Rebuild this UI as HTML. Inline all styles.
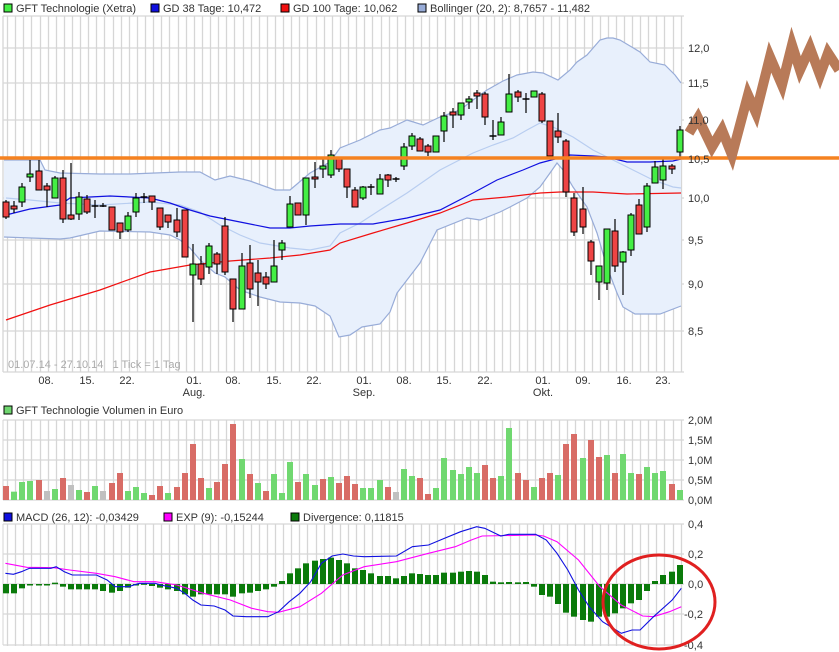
<!DOCTYPE html>
<html><head><meta charset="utf-8"><style>
body{margin:0;background:#fff;width:839px;height:652px;overflow:hidden}
svg{display:block;font-family:"Liberation Sans",sans-serif}
</style></head><body>
<svg id="s" width="839" height="652" xmlns="http://www.w3.org/2000/svg"></svg>
<script>
const S=document.getElementById('s');let h='';
const G='#d6d6d6';
// candles: x, bodyTop, bodyBot, wickHi, wickLo, color
const C=[[6,202,217,200,219,'r'],[14,206,209,201,213,'r'],[22,187,202,183,207,'g'],[30,174,177,160,182,'g'],[39,171,190,160,190,'r'],[47,186,190,183,207,'r'],[55,178,198,176,198,'g'],[63,178,219,170,223,'r'],[71,215,219,163,220,'r'],[79,197,214,192,220,'g'],[87,199,212,195,214,'r'],[95,206,206,200,218,'r'],[103,206,206,203,207,'r'],[112,207,230,207,230,'r'],[120,223,232,223,239,'r'],[128,216,230,212,232,'g'],[136,198,212,193,217,'g'],[144,197,198,193,203,'g'],[152,196,202,196,210,'r'],[160,208,227,208,230,'r'],[168,215,222,215,228,'r'],[177,220,232,208,237,'r'],[185,210,257,210,257,'r'],[193,264,275,244,322,'g'],[201,264,279,256,285,'r'],[209,246,267,243,274,'g'],[217,254,264,252,274,'r'],[225,226,272,217,275,'r'],[233,279,309,279,322,'r'],[242,266,309,253,309,'g'],[250,263,289,245,298,'r'],[258,273,282,260,306,'r'],[266,277,284,272,289,'r'],[274,266,282,240,282,'g'],[282,243,250,240,260,'g'],[290,204,227,196,227,'g'],[298,203,215,203,215,'r'],[306,178,215,178,225,'g'],[315,177,179,162,188,'r'],[323,166,169,157,178,'g'],[331,155,175,150,178,'g'],[339,157,169,157,172,'r'],[347,169,187,169,198,'r'],
[355,190,207,187,207,'r'],[363,187,198,186,200,'g'],[371,187,187,184,195,'r'],[380,179,194,174,194,'g'],[388,175,180,174,187,'r'],[396,179,179,177,182,'r'],[404,147,166,143,170,'g'],[412,136,146,133,150,'g'],[420,139,151,137,151,'r'],[428,146,152,144,156,'r'],[436,136,152,136,152,'g'],[444,116,131,112,142,'g'],[453,112,115,108,128,'r'],[461,103,115,103,120,'g'],[469,99,102,96,109,'g'],[477,93,96,90,109,'r'],[485,94,117,92,125,'r'],[493,136,136,120,140,'r'],[501,122,135,117,135,'g'],[509,94,112,74,112,'g'],[518,92,97,90,102,'r'],[526,99,99,93,113,'r'],[534,91,97,91,97,'g'],[542,94,121,92,123,'r'],[550,121,156,121,156,'r'],[558,131,137,113,143,'r'],[566,141,192,139,197,'r'],[574,198,232,193,236,'r'],[583,209,227,187,234,'r'],[591,242,261,240,275,'r'],[599,266,282,266,300,'g'],[607,229,283,229,290,'g'],[615,231,266,219,272,'r'],[623,252,262,251,295,'g'],[631,215,250,213,256,'g'],[639,205,234,199,234,'r'],[647,186,227,183,232,'g'],[655,167,183,161,183,'g'],[663,166,180,157,189,'g'],[672,166,169,164,174,'r'],[680,130,152,126,158,'g']];
const xs=C.map(c=>c[0]);
// vertical grids
function vgrid(y1,y2){for(let i=0;i<xs.length;i++){const x=xs[i]+1.5;h+=`<line x1="${x}" y1="${y1}" x2="${x}" y2="${y2}" stroke="${G}" stroke-width="1.3"/>`;}}
vgrid(16,372);vgrid(420,500);vgrid(524,646);
[16,48,83,120,159,198,240,284,331].forEach(y=>h+=`<line x1="3" y1="${y}" x2="684" y2="${y}" stroke="${G}" stroke-width="1.3"/>`);
h+=`<line x1="3" y1="16" x2="3" y2="372" stroke="${G}" stroke-width="1.3"/><line x1="3" y1="372" x2="684" y2="372" stroke="${G}" stroke-width="1.3"/>`;
[420,440,460,480,500].forEach(y=>h+=`<line x1="3" y1="${y}" x2="684" y2="${y}" stroke="${G}" stroke-width="1.3"/>`);
[524,554,584,614,645].forEach(y=>h+=`<line x1="3" y1="${y}" x2="684" y2="${y}" stroke="${G}" stroke-width="1.3"/>`);
h+=`<line x1="3" y1="420" x2="3" y2="500" stroke="${G}"/><line x1="3" y1="524" x2="3" y2="645" stroke="${G}"/>`;
const P=a=>a.map(p=>p.join(',')).join(' ');
const up=[[4,160],[40,160],[45,170],[60,173],[100,174],[130,174],[180,172],[200,172],[215,180],[230,176],[250,181],[275,190],[290,190],[310,173],[330,162],[340,148],[360,140],[380,130],[390,128],[407,120],[423,125],[440,117],[460,110],[473,100],[487,90],[503,81],[517,75],[533,72],[543,73],[558,80],[570,70],[577,62],[587,55],[600,40],[607,38],[613,38],[620,40],[640,52],[650,62],[665,65],[675,75],[681,83]];
const lo=[[4,237],[30,238],[60,239],[70,238],[100,231],[150,232],[170,235],[180,240],[190,248],[200,260],[215,273],[225,277],[240,290],[260,297],[280,302],[300,303],[315,306],[330,316],[339,337],[350,335],[362,327],[380,324],[390,312],[397,293],[420,263],[437,230],[467,218],[480,220],[500,212],[510,207],[527,198],[540,187],[550,173],[557,163],[563,170],[573,187],[587,207],[597,233],[607,267],[617,293],[623,307],[635,314],[660,314],[681,306]];
h+=`<polygon points="${P(up.concat(lo.slice().reverse()))}" fill="#e8f0fc"/>`;
h+=`<polyline points="${P(up)}" fill="none" stroke="#98acd8" stroke-width="1.2"/><polyline points="${P(lo)}" fill="none" stroke="#98acd8" stroke-width="1.2"/>`;
const mid=[[6,198],[30,200],[60,203],[100,205],[150,202],[180,205],[200,212],[220,225],[240,235],[260,243],[290,248],[310,250],[330,246],[340,233],[360,223],[380,210],[407,193],[440,170],[473,153],[493,145],[513,138],[527,130],[540,123],[553,127],[573,137],[593,150],[613,160],[633,170],[653,180],[673,187],[681,188]];
h+=`<polyline points="${P(mid)}" fill="none" stroke="#b8cdf0" stroke-width="1.2"/>`;
const g38=[[6,215],[30,209],[60,205],[70,198],[90,197],[110,196],[150,198],[170,203],[190,210],[210,216],[240,222],[270,228],[290,228],[310,226],[340,224],[373,224],[407,218],[440,210],[473,193],[497,180],[523,170],[540,163],[555,159],[570,155],[593,156],[607,157],[627,162],[650,162],[673,161],[681,159]];
const g100=[[6,320],[50,305],[100,290],[150,272],[190,265],[230,261],[270,258],[300,255],[330,250],[340,243],[373,233],[407,223],[440,213],[473,200],[507,197],[540,193],[560,192],[593,192],[627,194],[681,193]];
h+=`<polyline points="${P(g100)}" fill="none" stroke="#f01010" stroke-width="1.2"/><polyline points="${P(g38)}" fill="none" stroke="#1010e0" stroke-width="1.2"/>`;
C.forEach(c=>{const[x,t,b,wh,wl,col]=c;h+=`<line x1="${x}" y1="${wh}" x2="${x}" y2="${wl}" stroke="#000" stroke-width="1.2"/>`;
 if(b-t<1.5)h+=`<line x1="${x-3.5}" y1="${t}" x2="${x+3.5}" y2="${t}" stroke="#000" stroke-width="1.5"/>`;
 else h+=`<rect x="${x-3}" y="${t}" width="6" height="${b-t}" fill="${col=='g'?'#44ee44':'#ee4444'}" stroke="#000" stroke-width="1"/>`;});
// orange line & zigzag
h+=`<line x1="0" y1="158" x2="839" y2="158" stroke="#f58220" stroke-width="3.5"/>`;
h+=`<polyline points="689,133 698,118 712,147 722,130 732,155 748,95 756,113 770,57 782,85 792,45 800,70 810,48 820,75 828,53 839,70" fill="none" stroke="#b87a58" stroke-width="10" stroke-linejoin="miter"/>`;
// axis labels
const T=(x,y,s,a,c,fs)=>h+=`<text x="${x}" y="${y}" font-size="${fs||11}" fill="${c||'#333'}" text-anchor="${a||'start'}">${s}</text>`;
[['12,0',48],['11,5',83],['11,0',120],['10,5',159],['10,0',198],['9,5',240],['9,0',284],['8,5',331]].forEach(l=>T(688,l[1]+4,l[0]));
[['08.',46],['15.',87],['22.',127],['01.',194],['08.',233],['15.',274],['22.',314],['01.',364],['08.',404],['15.',444],['22.',485],['01.',543],['09.',583],['16.',624],['23.',663]].forEach(l=>T(l[1],384,l[0],'middle'));
T(194,396,'Aug.','middle');T(364,396,'Sep.','middle');T(543,396,'Okt.','middle');
T(8,368,'01.07.14 - 27.10.14&#160;&#160;&#160;1 Tick = 1 Tag','start','#aaa');
// legends
const L=(x,y,c)=>h+=`<rect x="${x}" y="${y}" width="8" height="8" fill="${c}" stroke="#000" stroke-width="1"/>`;
L(4,4,'#44ee44');T(16,12,'GFT Technologie (Xetra)');L(151,4,'#1010e0');T(163,12,'GD 38 Tage: 10,472');L(281,4,'#f01010');T(293,12,'GD 100 Tage: 10,062');L(418,4,'#98acd8');T(430,12,'Bollinger (20, 2): 8,7657 - 11,482');
L(4,406,'#6fd66f');T(16,414,'GFT Technologie Volumen in Euro');
L(4,513,'#1010e0');T(16,521,'MACD (26, 12): -0,03429');L(164,513,'#ff00ff');T(176,521,'EXP (9): -0,15244');L(291,513,'#0a7a0a');T(303,521,'Divergence: 0,11815');
[['2,0M',420],['1,5M',440],['1,0M',460],['0,5M',480],['0,0M',500]].forEach(l=>T(688,l[1]+4,l[0]));
[['0,4',524],['0,2',554],['0,0',584],['-0,2',614],['-0,4',645]].forEach(l=>T(l[0][0]=='-'?684:688,l[1]+4,l[0]));
// volume
const V=[[258,'r'],[275,'g'],[246,'g'],[243,'g'],[240,'r'],[273,'n'],[267,'g'],[234,'r'],[255,'n'],[270,'g'],[276,'r'],[258,'g'],[273,'n'],[249,'r'],[219,'r'],[273,'g'],[261,'g'],[279,'g'],[285,'r'],[258,'r'],[279,'g'],[261,'r'],[219,'r'],[132,'r'],[234,'r'],[264,'g'],[246,'r'],[192,'r'],[72,'r'],[177,'g'],[222,'r'],[249,'g'],[273,'r'],[222,'g'],[279,'g'],[186,'g'],[246,'r'],[222,'g'],[255,'g'],[237,'r'],[231,'g'],[249,'r'],[228,'r'],[252,'r'],[264,'g'],[264,'g'],[240,'g'],[261,'r'],[276,'n'],[207,'g'],[228,'g'],[234,'r'],[282,'r'],[264,'g'],[174,'g'],[210,'g'],[222,'g'],[201,'g'],[219,'g'],[195,'r'],[234,'r'],[228,'g'],[84,'g'],[219,'r'],[240,'r'],[261,'g'],[234,'r'],[219,'r'],[225,'g'],[132,'r'],[102,'r'],[174,'g'],[120,'r'],[171,'r'],[165,'g'],[219,'r'],[162,'g'],[219,'g'],[222,'r'],[201,'g'],[219,'g'],[213,'g'],[252,'r'],[270,'g']];
V.forEach((v,i)=>{if(i>=xs.length)return;const y=v[0]/3+400;h+=`<rect x="${xs[i]-3}" y="${y}" width="6" height="${500-y}" fill="${v[1]=='g'?'#70d870':v[1]=='r'?'#d86c66':'#c0c0c0'}"/>`;});
// divergence
const D=[580,580,565,555,553,553,548,560,568,568,568,568,573,578,573,563,555,550,558,563,568,573,583,590,583,583,583,583,590,580,578,573,568,560,543,520,505,490,482,477,473,480,490,505,510,520,528,528,535,528,520,522,525,525,518,518,515,513,515,525,545,547,546,547,546,560,585,590,612,638,650,660,665,650,650,640,625,610,600,573,543,525,515,495];
D.forEach((d,i)=>{if(i>=xs.length)return;const y=d/3+400,z=584;h+=`<rect x="${xs[i]-3}" y="${Math.min(y,z)}" width="6" height="${Math.max(Math.abs(y-z),1.5)}" fill="#0a7a0a"/>`;});
const Z=a=>a.map(p=>[(p[0]/1.867).toFixed(1),(p[1]/3+400).toFixed(1)].join(',')).join(' ');
const mb=[[10,520],[25,523],[40,515],[55,505],[95,505],[105,500],[120,515],[135,525],[180,525],[200,540],[215,560],[240,560],[260,550],[290,550],[300,555],[330,565],[345,580],[360,600],[375,615],[400,618],[420,630],[435,648],[460,650],[500,650],[520,635],[540,605],[560,580],[580,545],[600,490],[620,468],[640,462],[660,468],[680,470],[740,468],[770,440],[800,435],[830,415],[860,395],[890,380],[905,385],[935,408],[950,403],[1000,403],[1020,420],[1040,460],[1060,510],[1080,570],[1100,620],[1125,665],[1160,700],[1180,690],[1195,690],[1220,650],[1255,600],[1272,565]];
const pk=[[10,490],[50,502],[100,503],[130,510],[180,520],[215,530],[250,545],[290,545],[330,555],[380,580],[430,600],[470,625],[500,635],[520,637],[560,620],[600,580],[640,525],[680,500],[740,485],[800,460],[850,440],[880,420],[900,408],[1000,405],[1015,408],[1040,425],[1080,480],[1120,560],[1160,615],[1200,648],[1220,650],[1250,635],[1272,620]];
h+=`<polyline points="${Z(pk)}" fill="none" stroke="#ff00ff" stroke-width="1.1"/><polyline points="${Z(mb)}" fill="none" stroke="#1010e0" stroke-width="1.1"/>`;
h+=`<ellipse cx="659" cy="602" rx="56" ry="47" fill="none" stroke="#e02020" stroke-width="3"/>`;
S.innerHTML=h;
</script>
</body></html>
